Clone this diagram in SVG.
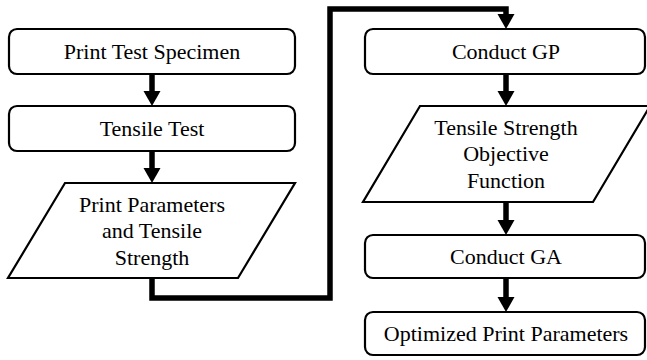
<svg xmlns="http://www.w3.org/2000/svg" width="647" height="360" viewBox="0 0 647 360">
<style>
.box{fill:#fff;stroke:#000;stroke-width:2.2}
.t{font-family:'Liberation Serif','Times New Roman',Times,'DejaVu Serif',serif;font-size:22px;fill:#000;text-anchor:middle}
.c{fill:none;stroke:#000;stroke-width:5.5;stroke-linejoin:miter}
</style>
<defs>
<marker id="ah" markerUnits="userSpaceOnUse" markerWidth="16" markerHeight="18" refX="0" refY="8.5" orient="auto">
<path d="M0,0 L15,8.5 L0,17 z" fill="#000"/>
</marker>
</defs>
<rect width="647" height="360" fill="#fff"/>
<g id="connectors">
<path class="c" d="M152,75 V91" marker-end="url(#ah)"/>
<path class="c" d="M152,152 V168" marker-end="url(#ah)"/>
<path class="c" d="M152,279 V298 H330 V9 H506 V14" marker-end="url(#ah)"/>
<path class="c" d="M506,75 V91" marker-end="url(#ah)"/>
<path class="c" d="M506,203 V220" marker-end="url(#ah)"/>
<path class="c" d="M506,279 V297" marker-end="url(#ah)"/>
</g>
<g id="print-test-specimen">
<rect class="box" x="9" y="29" width="286" height="45" rx="8"/>
<text class="t" x="152" y="59" font-family="Liberation Serif, serif">Print Test Specimen</text>
</g>
<g id="tensile-test">
<rect class="box" x="9" y="106" width="286" height="45" rx="8"/>
<text class="t" x="152" y="136">Tensile Test</text>
</g>
<g id="print-parameters">
<path class="box" d="M65,183 H295 L238,278 H8 Z"/>
<text class="t" x="152" y="212">Print Parameters</text>
<text class="t" x="152" y="238">and Tensile</text>
<text class="t" x="152" y="265">Strength</text>
</g>
<g id="conduct-gp">
<rect class="box" x="365" y="29" width="280" height="45" rx="8"/>
<text class="t" x="506" y="59">Conduct GP</text>
</g>
<g id="objective-function">
<path class="box" d="M420,106 H650 L593,202 H363 Z"/>
<text class="t" x="506" y="135">Tensile Strength</text>
<text class="t" x="506" y="161">Objective</text>
<text class="t" x="506" y="188">Function</text>
</g>
<g id="conduct-ga">
<rect class="box" x="365" y="235" width="280" height="43" rx="8"/>
<text class="t" x="506" y="264">Conduct GA</text>
</g>
<g id="optimized">
<rect class="box" x="365" y="312" width="280" height="43" rx="8"/>
<text class="t" x="506" y="341">Optimized Print Parameters</text>
</g>
</svg>
